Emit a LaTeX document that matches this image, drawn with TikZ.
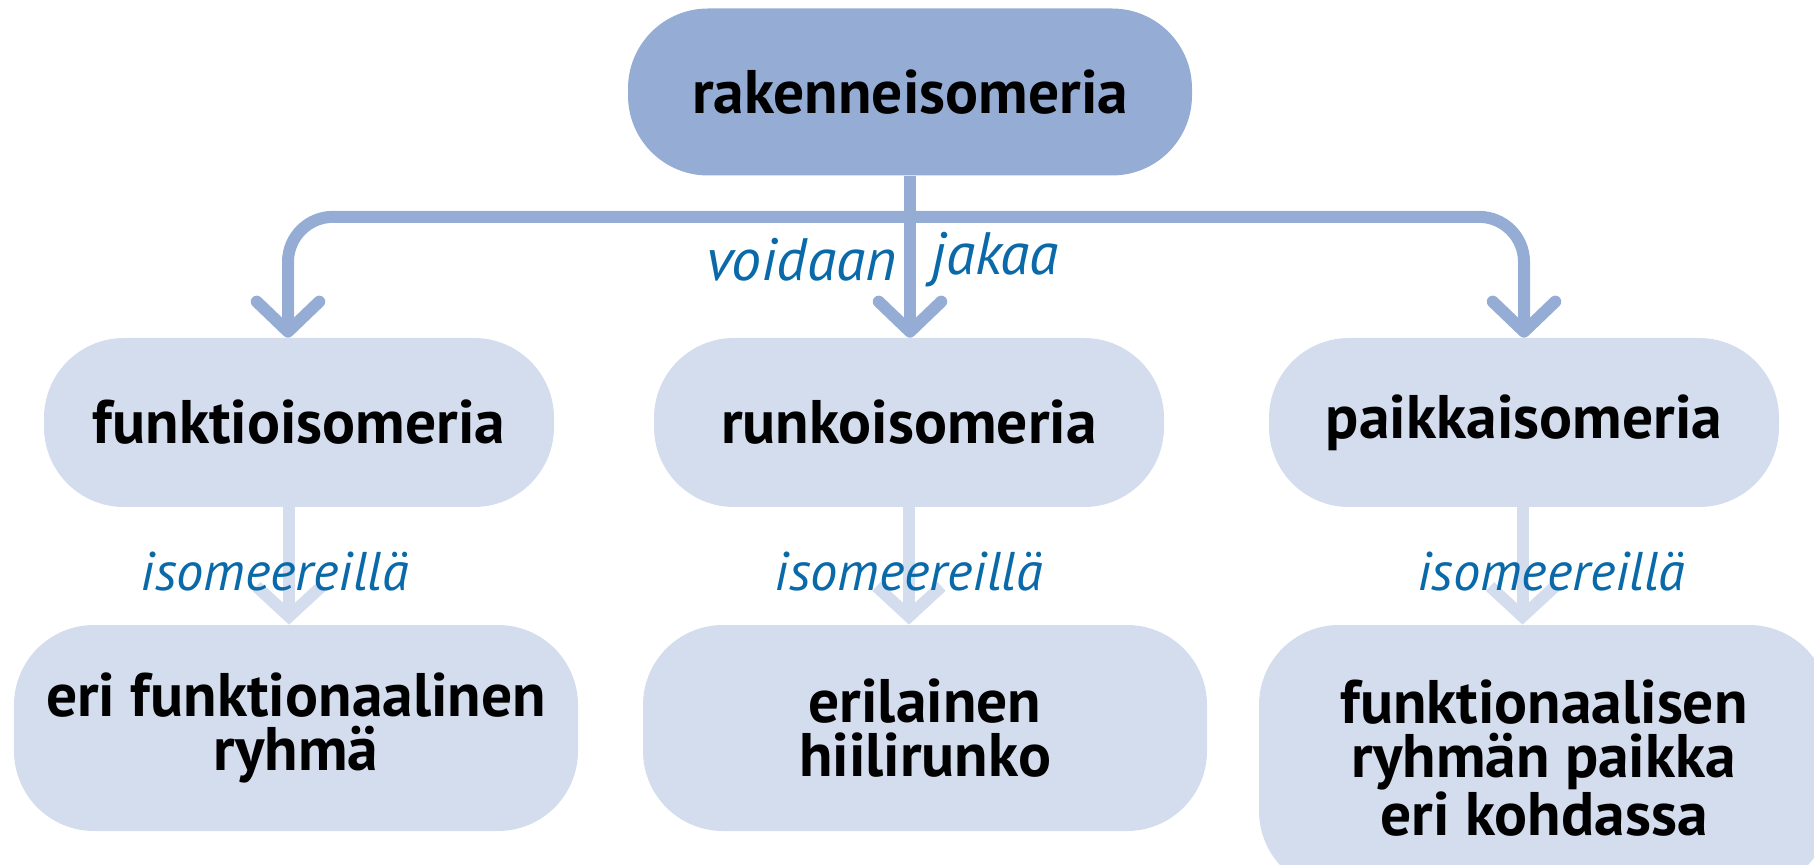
\documentclass[tikz,border=0pt]{standalone}
\usepackage{fontspec}
\setmainfont{PT Sans}
\usepackage{tikz}
\usetikzlibrary{arrows.meta,calc,positioning}
\definecolor{tumma}{HTML}{95ACD4}
\definecolor{vaalea}{HTML}{D4DDEE}
\definecolor{kasiteksti}{HTML}{0A69A8}
\tikzstyle{ylabox}=[rectangle, rounded corners=1.6cm, fill=tumma, minimum width=11.28cm, minimum height=3.34cm, align=center, font=\bfseries\fontsize{35}{31}\selectfont]
\tikzstyle{tyyppibox}=[rectangle, rounded corners=1.6cm, fill=vaalea, minimum width=10.2cm, minimum height=3.38cm, align=center, font=\bfseries\fontsize{35}{31}\selectfont]
\tikzstyle{erobox}=[rectangle, rounded corners=1.6cm, fill=vaalea, minimum width=11.28cm, minimum height=4.12cm, align=center, font=\bfseries\fontsize{35}{31}\selectfont]
\tikzstyle{isonuoli}=[draw=tumma, line width=0.24cm, rounded corners=0.9cm, -{Straight Barb[length=0.6cm, width=1.25cm, round]}]
\tikzstyle{pieninuoli}=[draw=vaalea, line width=0.24cm, -{Straight Barb[length=0.6cm, width=1.3cm]}]
\tikzstyle{kasi}=[text=kasiteksti, inner sep=0pt, font=\itshape\fontsize{31}{31}\selectfont]

\begin{document}
\begin{tikzpicture}
    \useasboundingbox (0,0) rectangle (36.28,-17.3);
    % Place the main concept and its three types
    \node[ylabox] (rakenne) at (18.2,-1.84) {rakenneisomeria};
    \node[tyyppibox] (funktio) at (5.98,-8.45) {funktioisomeria};
    \node[tyyppibox] (runko) at (18.18,-8.45) {runkoisomeria};
    \node[tyyppibox] (paikka) at (30.48,-8.45) {paikkaisomeria};
    % What the isomers differ in
    \node[erobox] (funktioero) at (5.92,-14.56) {eri funktionaalinen\\ryhmä};
    \node[erobox] (runkoero) at (18.5,-14.56) {erilainen\\hiilirunko};
    \node[erobox, minimum width=11.4cm, minimum height=5.32cm] (paikkaero) at (30.88,-15.16) {funktionaalisen\\ryhmän paikka\\eri kohdassa};

    \coordinate (jako) at ($(rakenne.south)+(0,-0.82)$);
    \draw[isonuoli] (jako) -| ($(funktio.north)+(-0.22,0)$);
    \draw[isonuoli] (jako) -| (paikka.north);
    \draw[isonuoli] (rakenne.south) -- (rakenne.south |- runko.north);
    \node[kasi, anchor=east, font=\itshape\fontsize{34}{34}\selectfont] (voidaan) at (17.94,-5.2) {voidaan};
    \node[kasi, anchor=west, font=\itshape\fontsize{34}{34}\selectfont] (jakaa) at (18.62,-5.2) {jakaa};

    \coordinate (n1) at ($(funktio.south)+(-0.2,0)$);
    \coordinate (n2) at (runko.south);
    \coordinate (n3) at ($(paikka.south)+(-0.03,0)$);
    \draw[pieninuoli] (n1) -- node[kasi, pos=0.55, xshift=-0.28cm] (isom1) {isomeereillä} (n1 |- funktioero.north);
    \draw[pieninuoli] (n2) -- node[kasi, pos=0.55] (isom2) {isomeereillä} (n2 |- runkoero.north);
    \draw[pieninuoli] (n3) -- node[kasi, pos=0.55, xshift=0.58cm] (isom3) {isomeereillä} (n3 |- paikkaero.north);
\end{tikzpicture}
\end{document}
